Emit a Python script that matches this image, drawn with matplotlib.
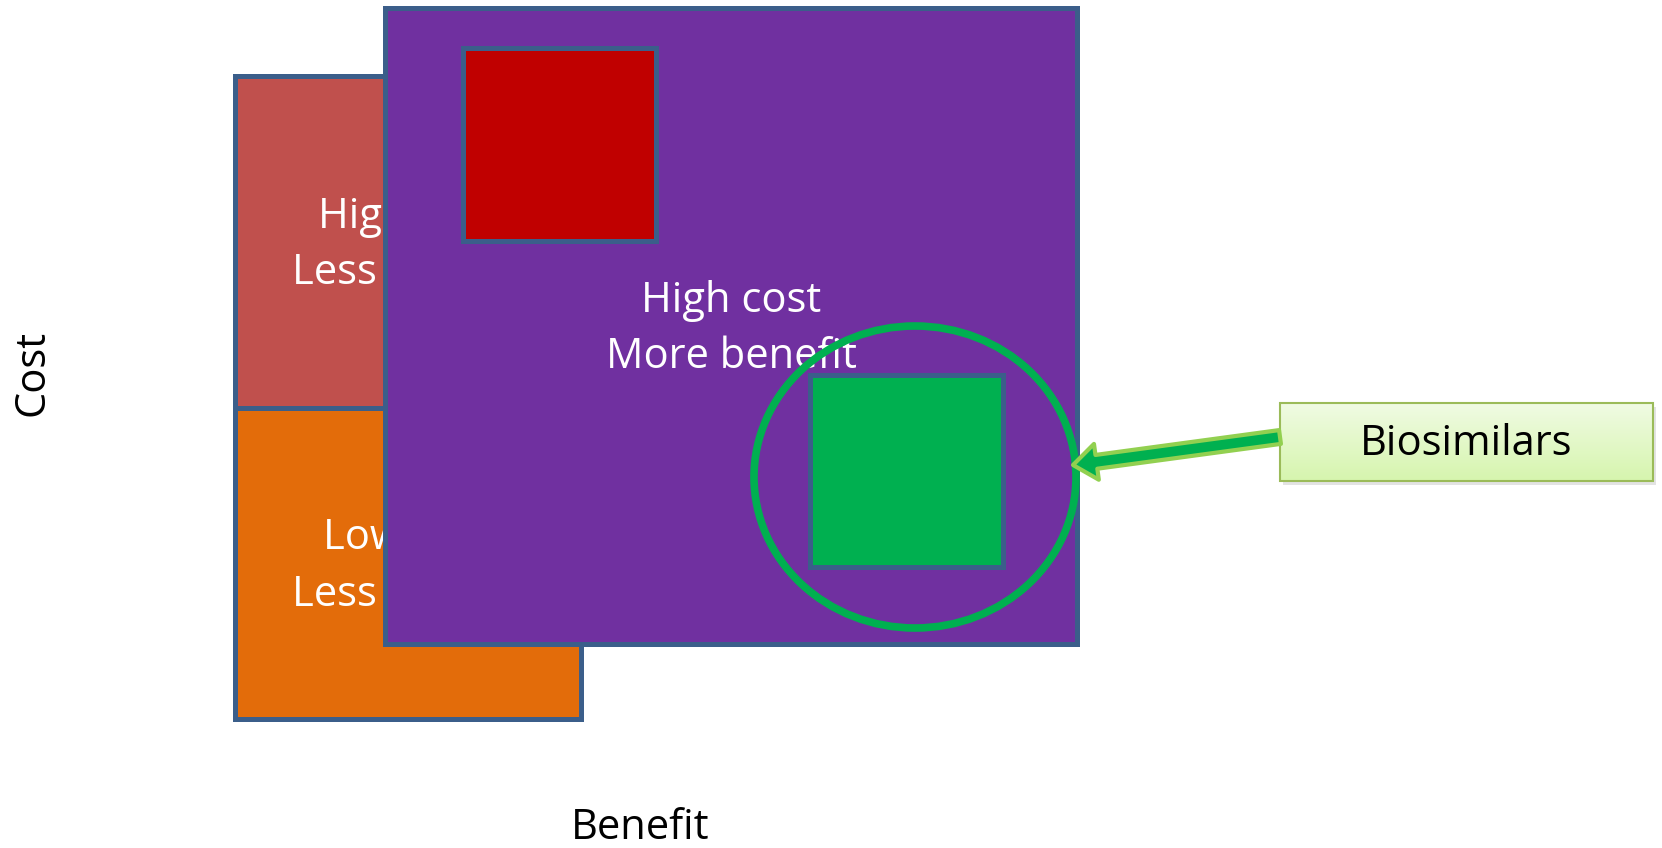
import numpy as np
import matplotlib.pyplot as plt
from matplotlib.patches import Rectangle, Ellipse, FancyArrowPatch

# canvas in pixel units (y grows downward)
W, H = 1662, 848

# quadrant boxes: x, y, width, height
box_names = ['high_less', 'low_less', 'high_more']
box_x = [235, 235, 385]
box_y = [76, 408, 8]
box_w = [346, 346, 692]
box_h = [332, 311, 636]
box_colors = ['#C0504D', '#E36C0A', '#7030A0']
box_labels = ['High cost\nLess benefit', 'Low cost\nLess benefit', 'High cost\nMore benefit']

# small squares inside the purple box
sq_x = [463, 810]
sq_y = [48, 375]
sq_w = [193, 193]
sq_h = [193, 192]
sq_colors = ['#C00000', '#00B050']

# circle round the green square
circ_center = (915, 477)
circ_size = (322, 302)

# callout
call_x, call_y, call_w, call_h = 1280, 403, 373, 78
call_text = 'Biosimilars'
arrow_from = (1280, 437)
arrow_to = (1073, 465)

edge = '#3B5E8A'
font = ['Open Sans', 'DejaVu Sans']

fig = plt.figure(figsize=(W / 100, H / 100), dpi=100)
ax = fig.add_axes([0, 0, 1, 1])
ax.set_xlim(0, W)
ax.set_ylim(H, 0)
ax.axis('off')

# back boxes (red / orange) with their labels, then purple on top
for i in range(3):
    ax.add_patch(Rectangle((box_x[i], box_y[i]), box_w[i], box_h[i],
                           facecolor=box_colors[i], edgecolor=edge, lw=3.6,
                           zorder=1 + 2 * (i // 2)))
    ax.text(box_x[i] + box_w[i] / 2, box_y[i] + box_h[i] / 2 + 3, box_labels[i],
            color='white', fontsize=30, family=font, ha='center', va='center',
            linespacing=1.45, zorder=2 + 2 * (i // 2) + (1 if i == 2 else 0))

for i in range(2):
    ax.add_patch(Rectangle((sq_x[i], sq_y[i]), sq_w[i], sq_h[i],
                           facecolor=sq_colors[i], edgecolor=edge, lw=3.6, zorder=4))

ax.add_patch(Ellipse(circ_center, circ_size[0], circ_size[1], fill=False,
                     edgecolor='#00B050', lw=5.5, zorder=6))

# callout box with a light green gradient and a soft shadow
ax.add_patch(Rectangle((call_x + 3, call_y + 4), call_w, call_h,
                       facecolor='#C8C8C8', edgecolor='none', alpha=0.5, zorder=7))
grad = np.linspace(0, 1, 100).reshape(-1, 1)
ax.imshow(grad, cmap=plt.matplotlib.colors.LinearSegmentedColormap.from_list(
    'g', ['#F0FBE3', '#D6F5AE']), aspect='auto',
    extent=(call_x, call_x + call_w, call_y + call_h, call_y), zorder=8)
ax.add_patch(Rectangle((call_x, call_y), call_w, call_h, fill=False,
                       edgecolor='#9BBB59', lw=1.5, zorder=9))
ax.text(call_x + call_w / 2, call_y + call_h / 2 + 2, call_text, fontsize=30,
        family=font, ha='center', va='center', color='black', zorder=10)

ax.add_patch(FancyArrowPatch(arrow_from, arrow_to,
                             arrowstyle='simple,head_length=17,head_width=26,tail_width=10',
                             mutation_scale=1, facecolor='#00B050', edgecolor='#92D050',
                             lw=3, shrinkA=0, shrinkB=0, zorder=9))

# axis labels
ax.text(32, 373, 'Cost', rotation=90, fontsize=30, family=font,
        ha='center', va='center', color='black')
ax.text(640, 828, 'Benefit', fontsize=30, family=font,
        ha='center', va='center', color='black')

fig.savefig('out.png', dpi=100)
plt.close(fig)
